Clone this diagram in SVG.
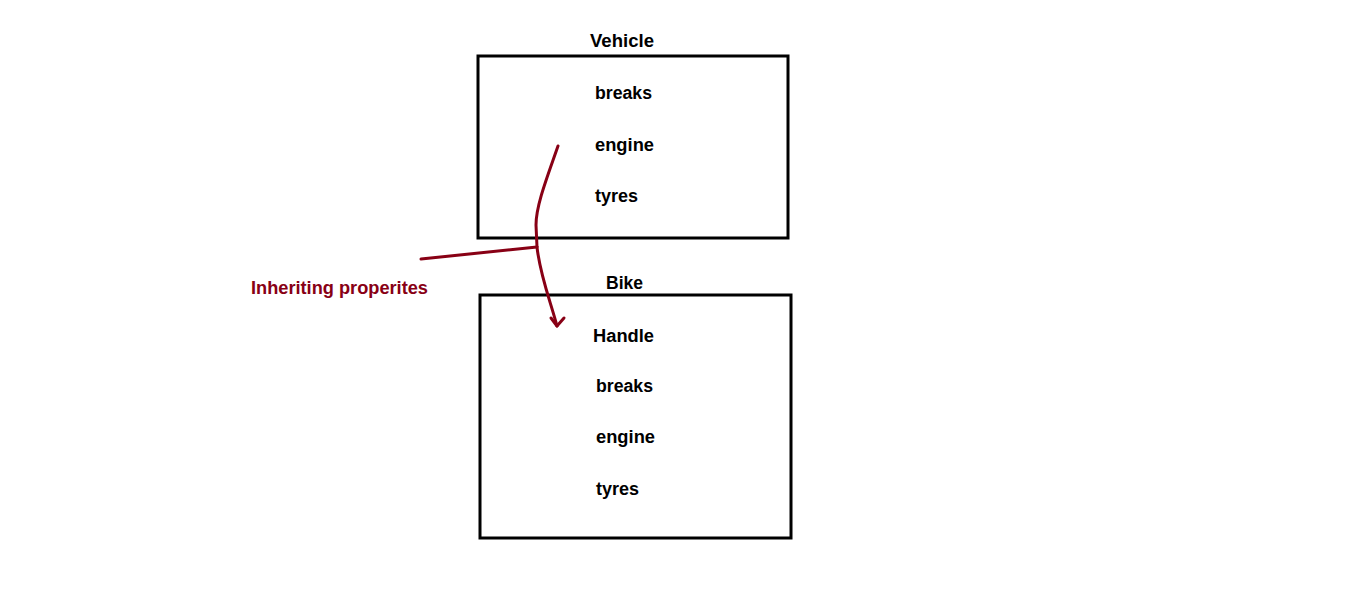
<svg xmlns="http://www.w3.org/2000/svg" width="1360" height="594" viewBox="0 0 1360 594">
<style>
.box{fill:none;stroke:#000;stroke-width:3}
.t{font-family:"Liberation Sans",Arial,sans-serif;font-weight:bold;font-size:18px;fill:#000}
.red{fill:none;stroke:#880015;stroke-width:3;stroke-linecap:round;stroke-linejoin:round}
.lbl{font-family:"Liberation Sans",Arial,sans-serif;font-weight:bold;font-size:18px;fill:#880015}
</style>
<rect width="1360" height="594" fill="#fff"/>
<g id="vehicle">
<text class="t" x="590" y="47" textLength="64" lengthAdjust="spacingAndGlyphs">Vehicle</text>
<rect class="box" x="478" y="56" width="310" height="182"/>
<text class="t" x="595" y="99" textLength="57" lengthAdjust="spacingAndGlyphs">breaks</text>
<text class="t" x="595" y="151" textLength="59" lengthAdjust="spacingAndGlyphs">engine</text>
<text class="t" x="595" y="202" textLength="43" lengthAdjust="spacingAndGlyphs">tyres</text>
</g>
<g id="bike">
<text class="t" x="606" y="289" textLength="37" lengthAdjust="spacingAndGlyphs">Bike</text>
<rect class="box" x="480" y="295" width="311" height="243"/>
<text class="t" x="593" y="342" textLength="61" lengthAdjust="spacingAndGlyphs">Handle</text>
<text class="t" x="596" y="392" textLength="57" lengthAdjust="spacingAndGlyphs">breaks</text>
<text class="t" x="596" y="443" textLength="59" lengthAdjust="spacingAndGlyphs">engine</text>
<text class="t" x="596" y="495" textLength="43" lengthAdjust="spacingAndGlyphs">tyres</text>
</g>
<g id="connectors">
<path class="red" d="M558,146 C548,175 536,205 536,225 L537,247 C540,275 550,300 557,326"/>
<path class="red" d="M551,318 L557,326 L564,318"/>
<path class="red" d="M421,259 L537,247"/>
</g>
<g id="label">
<text class="lbl" x="251" y="294" textLength="177" lengthAdjust="spacingAndGlyphs">Inheriting properites</text>
</g>
</svg>
